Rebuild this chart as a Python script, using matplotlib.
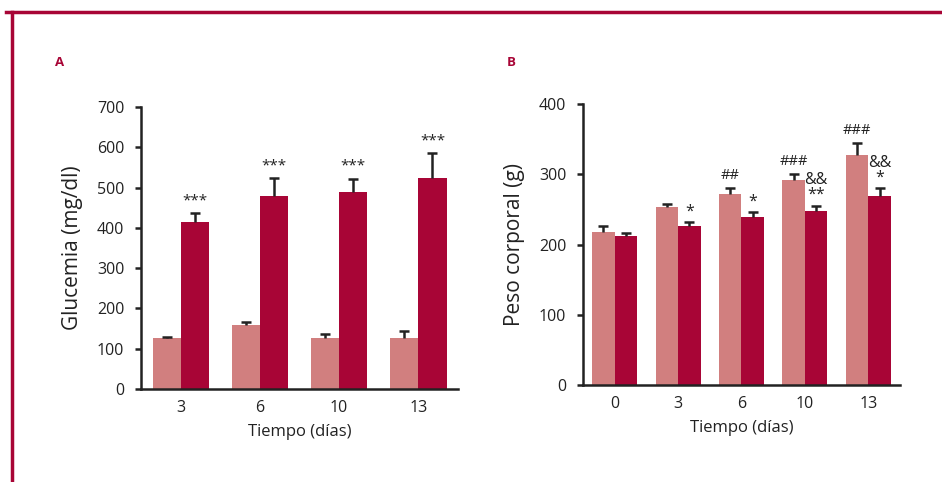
import matplotlib
matplotlib.use("Agg")
import matplotlib.pyplot as plt
from matplotlib.lines import Line2D
import numpy as np

plt.rcParams['font.family'] = ['Open Sans', 'DejaVu Sans']

light = '#D17F7F'
dark = '#A80536'
ink = '#222222'

# Panel A: glucemia
days_a = ['3', '6', '10', '13']
gluc_ctrl = [127, 159, 127, 127]
gluc_ctrl_err = [3, 8, 9, 18]
gluc_diab = [414, 479, 489, 524]
gluc_diab_err = [23, 45, 33, 61]
stars_a = ['***', '***', '***', '***']

# Panel B: peso corporal
days_b = ['0', '3', '6', '10', '13']
peso_ctrl = [218, 254, 272, 292, 328]
peso_ctrl_err = [8, 3, 9, 9, 17]
peso_diab = [212, 227, 239, 248, 269]
peso_diab_err = [4, 5, 7, 7, 11]
marks_ctrl = ['', '', '##', '###', '###']
marks_diab = ['', '*', '*', '&&\n**', '&&\n*']

fig = plt.figure(figsize=(9.42, 4.82), dpi=100)

# crimson frame (top and left edges)
fig.add_artist(Line2D([6/942, 1], [1 - 12/482, 1 - 12/482], color=dark, lw=2.5))
fig.add_artist(Line2D([12/942, 12/942], [0, 1 - 12/482], color=dark, lw=2.5))


def upper_err(ax, xs, vals, errs):
    # only the upper half of the error bar, with a cap on top
    tops = np.array(vals) + np.array(errs)
    ax.vlines(xs, vals, tops, color=ink, lw=1.8, zorder=3)
    ax.plot(xs, tops, ls='none', marker='_', ms=7, mew=1.8, color=ink, zorder=3)


def panel(ax, cats, c, ce, d, de, ymax, ylabel):
    x = np.arange(len(cats))
    w = 0.355
    ax.bar(x - w/2, c, w, color=light)
    ax.bar(x + w/2, d, w, color=dark)
    upper_err(ax, x - w/2, c, ce)
    upper_err(ax, x + w/2, d, de)
    ax.set_xlim(-0.5, len(cats) - 0.5)
    ax.set_ylim(0, ymax)
    ax.set_xticks(x)
    ax.set_xticklabels(cats)
    ax.spines['top'].set_visible(False)
    ax.spines['right'].set_visible(False)
    for s in ('left', 'bottom'):
        ax.spines[s].set_linewidth(1.8)
        ax.spines[s].set_color(ink)
    ax.tick_params(axis='x', length=0, labelsize=11.5, colors=ink, pad=8)
    ax.tick_params(axis='y', length=4, width=1.8, labelsize=11.5, colors=ink, pad=8)
    ax.set_xlabel('Tiempo (días)', fontsize=12, color=ink, labelpad=6)
    ax.set_ylabel(ylabel, fontsize=15, color=ink, labelpad=10)
    return x, w


ax1 = fig.add_axes([0.1497, 0.1929, 0.3365, 0.585])
x, w = panel(ax1, days_a, gluc_ctrl, gluc_ctrl_err, gluc_diab, gluc_diab_err,
             700, 'Glucemia (mg/dl)')
ax1.set_yticks(range(0, 701, 100))
for i in range(len(days_a)):
    ax1.text(x[i] + w/2, gluc_diab[i] + gluc_diab_err[i] + 12, stars_a[i],
             ha='center', va='bottom', fontsize=11, color=ink)

ax2 = fig.add_axes([0.6189, 0.2012, 0.3365, 0.583])
x, w = panel(ax2, days_b, peso_ctrl, peso_ctrl_err, peso_diab, peso_diab_err,
             400, 'Peso corporal (g)')
ax2.set_yticks(range(0, 401, 100))
for i in range(len(days_b)):
    if marks_ctrl[i]:
        ax2.text(x[i] - w/2, peso_ctrl[i] + peso_ctrl_err[i] + 6, marks_ctrl[i],
                 ha='center', va='bottom', fontsize=10.5, color=ink)
    if marks_diab[i]:
        ax2.text(x[i] + w/2, peso_diab[i] + peso_diab_err[i] + 4, marks_diab[i],
                 ha='center', va='bottom', fontsize=11.5, color=ink,
                 linespacing=0.9)

fig.text(55/942, 1 - 62/482, 'A', color=dark, fontsize=9.5, fontweight='bold',
         va='center')
fig.text(507/942, 1 - 62/482, 'B', color=dark, fontsize=9.5, fontweight='bold',
         va='center')

fig.savefig('out.png', dpi=100)
